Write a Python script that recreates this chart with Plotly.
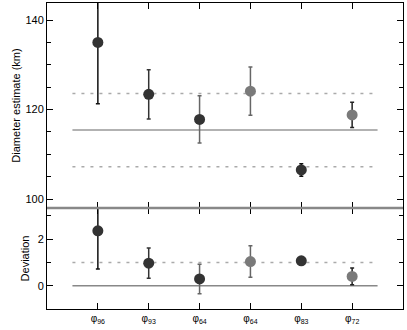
import plotly.graph_objects as go
from plotly.subplots import make_subplots

labels = ["φ<sub>96</sub>", "φ<sub>93</sub>", "φ<sub>64</sub>", "φ<sub>64</sub>", "φ<sub>83</sub>", "φ<sub>72</sub>"]
xpos = [1, 2, 3, 4, 5, 6]
diam = [135.0, 123.4, 117.8, 124.1, 106.5, 118.8]
diam_err = [13.7, 5.5, 5.3, 5.4, 1.4, 2.8]
dev = [2.36, 0.97, 0.29, 1.04, 1.07, 0.40]
dev_err = [1.64, 0.65, 0.63, 0.68, 0.10, 0.36]
mean_diam = 115.4
sigma_diam = 8.2
marker_colors = ["#333333", "#333333", "#333333", "#7a7a7a", "#333333", "#7a7a7a"]
err_colors = ["#111111", "#333333", "#666666", "#666666", "#111111", "#222222"]

fig = make_subplots(rows=2, cols=1, shared_xaxes=True, vertical_spacing=0,
                    row_heights=[205, 101])

line_x = [0.5, 6.5]
fig.add_trace(go.Scatter(x=line_x, y=[mean_diam]*2, mode="lines",
                         line=dict(color="#999999", width=1.5), showlegend=False, hoverinfo="skip"), row=1, col=1)
for s in (-1, 1):
    fig.add_trace(go.Scatter(x=line_x, y=[mean_diam + s*sigma_diam]*2, mode="lines",
                             line=dict(color="#aaaaaa", width=1.5, dash="3px,6px"),
                             showlegend=False, hoverinfo="skip"), row=1, col=1)
fig.add_trace(go.Scatter(x=line_x, y=[0, 0], mode="lines",
                         line=dict(color="#888888", width=1.5), showlegend=False, hoverinfo="skip"), row=2, col=1)
fig.add_trace(go.Scatter(x=line_x, y=[1, 1], mode="lines",
                         line=dict(color="#aaaaaa", width=1.5, dash="3px,6px"),
                         showlegend=False, hoverinfo="skip"), row=2, col=1)

for i in range(len(xpos)):
    fig.add_trace(go.Scatter(
        x=[xpos[i]], y=[diam[i]], mode="markers",
        marker=dict(size=11, color=marker_colors[i]),
        error_y=dict(type="data", array=[diam_err[i]], color=err_colors[i],
                     thickness=1.5, width=2),
        showlegend=False), row=1, col=1)
    fig.add_trace(go.Scatter(
        x=[xpos[i]], y=[dev[i]], mode="markers",
        marker=dict(size=11, color=marker_colors[i]),
        error_y=dict(type="data", array=[dev_err[i]], color=err_colors[i],
                     thickness=1.5, width=2),
        showlegend=False), row=2, col=1)

axis_common = dict(showgrid=False, zeroline=False, showline=True, linecolor="black",
                   linewidth=1, mirror="allticks", ticks="inside", ticklen=6,
                   tickcolor="black", tickwidth=1)

fig.update_xaxes(range=[0, 7], tickvals=xpos, ticktext=labels, **axis_common)
fig.update_xaxes(showticklabels=False, row=1, col=1)
fig.update_xaxes(tickfont=dict(size=10, color="black"), row=2, col=1)

fig.update_yaxes(range=[98, 143.8], tickvals=[100, 120, 140], row=1, col=1,
                 tickfont=dict(size=11, color="black"),
                 minor=dict(ticks="inside", dtick=5, ticklen=4, tickcolor="black", tick0=0),
                 title=dict(text="Diameter estimate (km)", standoff=2, font=dict(size=11, color="black")),
                 **axis_common)
fig.update_yaxes(range=[-1, 3.34], tickvals=[0, 2], row=2, col=1,
                 tickfont=dict(size=11, color="black"),
                 minor=dict(ticks="inside", dtick=1, ticklen=4, tickcolor="black", tick0=0),
                 title=dict(text="Deviation", standoff=5, font=dict(size=11, color="black")),
                 **axis_common)

# separator between panels
fig.add_shape(type="line", xref="paper", yref="paper", x0=0, x1=1,
              y0=101/306, y1=101/306, line=dict(color="#888888", width=2.5), layer="above")

fig.update_layout(
    width=407, height=330,
    margin=dict(l=47, r=4, t=3, b=21),
    plot_bgcolor="white", paper_bgcolor="white",
    font=dict(family="Liberation Sans, Arial, sans-serif", size=11, color="black"),
)

fig.write_html("out.html", config={"displayModeBar": False},
               post_script="document.body.style.margin='0';")
